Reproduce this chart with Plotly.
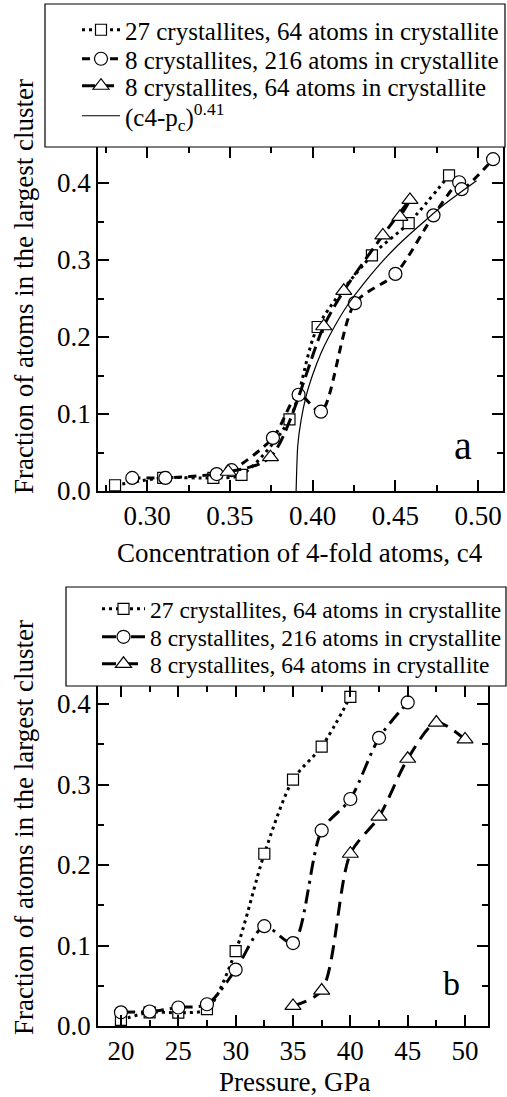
import plotly.graph_objects as go

# ---------------- data: panel (a) ----------------
c4_sq = [0.2806, 0.3097, 0.340, 0.357, 0.386, 0.403, 0.4358, 0.458, 0.4824]
fr_sq = [0.0075, 0.017, 0.017, 0.021, 0.093, 0.213, 0.306, 0.348, 0.410]

c4_ci = [0.291, 0.311, 0.342, 0.351, 0.376, 0.3915, 0.405, 0.4255, 0.450, 0.473, 0.4885, 0.490, 0.509]
fr_ci = [0.017, 0.017, 0.022, 0.027, 0.069, 0.125, 0.103, 0.244, 0.282, 0.358, 0.401, 0.392, 0.431]

c4_tr = [0.349, 0.3745, 0.4067, 0.4188, 0.4424, 0.4588, 0.4527]
fr_tr = [0.025, 0.044, 0.214, 0.260, 0.332, 0.378, 0.356]

c4_fit = [0.390, 0.391, 0.393, 0.396, 0.400, 0.405, 0.410, 0.420, 0.430, 0.440,
          0.450, 0.460, 0.470, 0.480, 0.490, 0.499]
fr_fit = [0.000, 0.059, 0.092, 0.123, 0.151, 0.179, 0.201, 0.238, 0.267, 0.293,
          0.316, 0.336, 0.355, 0.373, 0.389, 0.403]

# ---------------- data: panel (b) ----------------
p_sq = [20, 22.5, 25, 27.5, 30, 32.5, 35, 37.5, 40]
fb_sq = [0.0075, 0.017, 0.0165, 0.021, 0.093, 0.214, 0.306, 0.347, 0.409]

p_ci = [20, 22.5, 25, 27.5, 30, 32.5, 35, 37.5, 40, 42.5, 45]
fb_ci = [0.017, 0.018, 0.023, 0.027, 0.070, 0.124, 0.103, 0.243, 0.282, 0.358, 0.402]

p_tr = [35, 37.5, 40, 42.5, 45, 47.5, 50]
fb_tr = [0.025, 0.044, 0.214, 0.260, 0.332, 0.377, 0.356]

names = ["27 crystallites, 64 atoms in crystallite",
         "8 crystallites, 216 atoms in crystallite",
         "8 crystallites, 64 atoms in crystallite"]
fit_name = "(c4-p<sub>c</sub>)<sup>0.41</sup>"

FONT = "Liberation Serif, 'Times New Roman', Times, serif"
W, H = 507, 1097


def px_x(p):
    return p / W


def px_y(p):
    return 1 - p / H


fig = go.Figure()

mk = dict(color="white", line=dict(color="black", width=1.2))

# panel a
fig.add_trace(go.Scatter(x=c4_sq, y=fr_sq, name=names[0], mode="lines+markers",
                         line=dict(color="black", width=3, dash="3px,4px", shape="spline", smoothing=0.8),
                         marker=dict(symbol="square", size=11, **mk),
                         xaxis="x", yaxis="y", legend="legend"))
fig.add_trace(go.Scatter(x=c4_ci, y=fr_ci, name=names[1], mode="lines+markers",
                         line=dict(color="black", width=3, dash="8px,6px", shape="spline", smoothing=0.8),
                         marker=dict(symbol="circle", size=13, **mk),
                         xaxis="x", yaxis="y", legend="legend2"))
fig.add_trace(go.Scatter(x=c4_tr, y=fr_tr, name=names[2], mode="lines+markers",
                         line=dict(color="black", width=3, dash="13px,6px", shape="spline", smoothing=0.8),
                         marker=dict(symbol="triangle-up", size=14, **mk),
                         xaxis="x", yaxis="y", legend="legend3"))
fig.add_trace(go.Scatter(x=c4_fit, y=fr_fit, name=fit_name, mode="lines",
                         line=dict(color="black", width=1.2, shape="spline", smoothing=0.6),
                         xaxis="x", yaxis="y", legend="legend4"))

# panel b
fig.add_trace(go.Scatter(x=p_sq, y=fb_sq, name=names[0], mode="lines+markers",
                         line=dict(color="black", width=3, dash="3px,4px", shape="spline", smoothing=0.8),
                         marker=dict(symbol="square", size=11, **mk),
                         xaxis="x2", yaxis="y2", legend="legend5"))
fig.add_trace(go.Scatter(x=p_ci, y=fb_ci, name=names[1], mode="lines+markers",
                         line=dict(color="black", width=3, dash="14px,6px,3px,6px", shape="spline", smoothing=0.8),
                         marker=dict(symbol="circle", size=13, **mk),
                         xaxis="x2", yaxis="y2", legend="legend6"))
fig.add_trace(go.Scatter(x=p_tr, y=fb_tr, name=names[2], mode="lines+markers",
                         line=dict(color="black", width=3, dash="14px,8px", shape="spline", smoothing=0.8),
                         marker=dict(symbol="triangle-up", size=14, **mk),
                         xaxis="x2", yaxis="y2", legend="legend7"))

tickfont = dict(family=FONT, size=27, color="black")
axis_common = dict(showline=True, linecolor="black", linewidth=1.5, mirror="ticks",
                   ticks="inside", ticklen=11, tickwidth=1.5, tickcolor="black",
                   showgrid=False, zeroline=False, tickfont=tickfont, automargin=False)
minor_common = dict(ticklen=6, ticks="inside", tickcolor="black", tickwidth=1.5)


def row_legend(xpx, ypx, iw, size):
    return dict(x=px_x(xpx), y=px_y(ypx), xanchor="left", yanchor="middle",
                bgcolor="rgba(0,0,0,0)", borderwidth=0, itemwidth=iw,
                font=dict(family=FONT, size=size, color="black"))


fig.update_layout(
    width=W, height=H, autosize=False,
    margin=dict(l=0, r=0, t=0, b=0, autoexpand=False),
    paper_bgcolor="white", plot_bgcolor="white",
    font=dict(family=FONT, color="black"),
    showlegend=True,
    xaxis=dict(domain=[px_x(98), px_x(503)], range=[0.2703, 0.515], anchor="y",
               tick0=0.30, dtick=0.05, tickformat=".2f",
               minor=dict(dtick=0.025, **minor_common), **axis_common),
    yaxis=dict(domain=[px_y(491), px_y(147)], range=[0, 0.4468], anchor="x",
               tick0=0, dtick=0.1, tickformat=".1f",
               minor=dict(dtick=0.05, **minor_common), **axis_common),
    xaxis2=dict(domain=[px_x(98), px_x(488)], range=[18, 52], anchor="y2",
                tick0=20, dtick=5,
                minor=dict(dtick=2.5, **minor_common), **axis_common),
    yaxis2=dict(domain=[px_y(1026), px_y(686)], range=[0, 0.4224], anchor="x2",
                tick0=0, dtick=0.1, tickformat=".1f",
                minor=dict(dtick=0.05, **minor_common), **axis_common),
    legend=row_legend(77, 30, 38, 25),
    legend2=row_legend(77, 59, 38, 25),
    legend3=row_legend(77, 86, 38, 25),
    legend4=row_legend(77, 116, 38, 25),
    legend5=row_legend(97, 609, 43, 23.5),
    legend6=row_legend(97, 637, 43, 23.5),
    legend7=row_legend(97, 664, 43, 23.5),
    shapes=[
        dict(type="rect", xref="paper", yref="paper",
             x0=px_x(45), x1=px_x(505), y0=px_y(147), y1=px_y(4),
             line=dict(color="black", width=1.2), fillcolor="white", layer="above"),
        dict(type="rect", xref="paper", yref="paper",
             x0=px_x(66), x1=px_x(506), y0=px_y(686), y1=px_y(587),
             line=dict(color="black", width=1.2), fillcolor="white", layer="above"),
    ],
)

ann_font = dict(family=FONT, size=27, color="black")
fig.add_annotation(text="Concentration of 4-fold atoms, c4", x=px_x(300), y=px_y(553),
                   xref="paper", yref="paper", showarrow=False, font=ann_font,
                   xanchor="center", yanchor="middle")
fig.add_annotation(text="Pressure, GPa", x=px_x(294), y=px_y(1082),
                   xref="paper", yref="paper", showarrow=False, font=ann_font,
                   xanchor="center", yanchor="middle")
fig.add_annotation(text="Fraction of atoms in the largest cluster", x=px_x(24), y=px_y(287),
                   xref="paper", yref="paper", showarrow=False, font=ann_font, textangle=-90,
                   xanchor="center", yanchor="middle")
fig.add_annotation(text="Fraction of atoms in the largest cluster", x=px_x(24), y=px_y(828),
                   xref="paper", yref="paper", showarrow=False, font=ann_font, textangle=-90,
                   xanchor="center", yanchor="middle")
fig.add_annotation(text="a", x=px_x(463), y=px_y(445),
                   xref="paper", yref="paper", showarrow=False,
                   font=dict(family=FONT, size=40, color="black"),
                   xanchor="center", yanchor="middle")
fig.add_annotation(text="b", x=px_x(451), y=px_y(983),
                   xref="paper", yref="paper", showarrow=False,
                   font=dict(family=FONT, size=34, color="black"),
                   xanchor="center", yanchor="middle")

fig.write_html("out.html")
